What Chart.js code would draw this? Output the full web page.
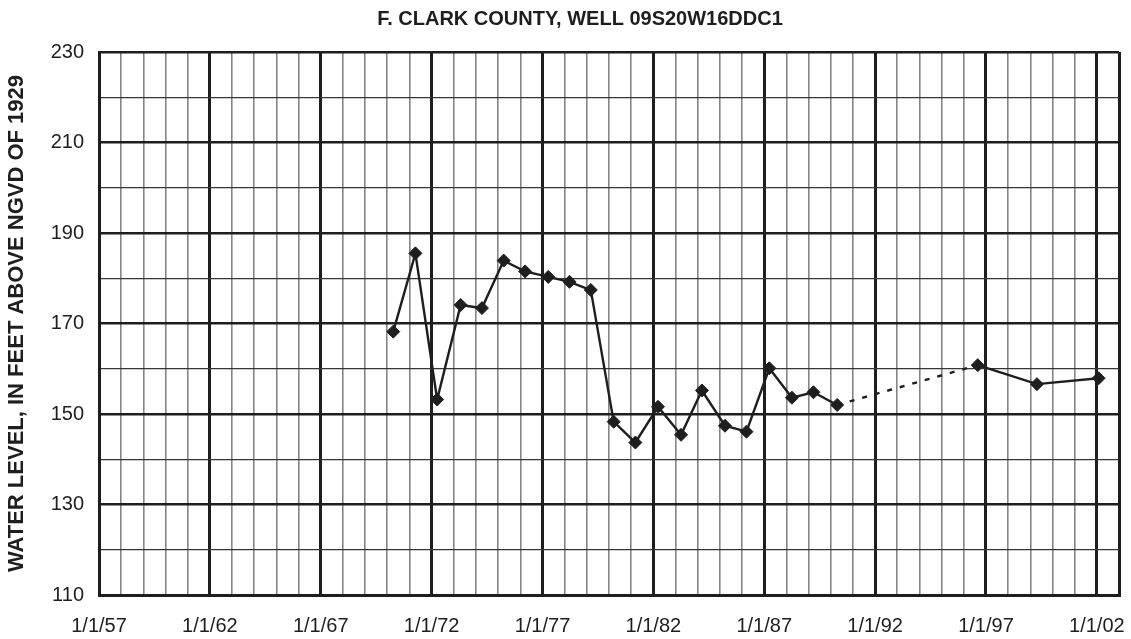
<!DOCTYPE html>
<html>
<head>
<meta charset="utf-8">
<script src="https://cdn.jsdelivr.net/npm/chart.js@4.4.0/dist/chart.umd.min.js"></script>
<style>
  html, body { margin: 0; padding: 0; background: #ffffff; }
  #wrap { width: 1131px; height: 639px; position: relative; }
</style>
</head>
<body>
<div id="wrap"><canvas id="c" width="1131" height="639"></canvas></div>
<script>
// ---- data (decimal years, water level in feet) ----
const sampleYears = [1970.27, 1971.27, 1972.25, 1973.31, 1974.27, 1975.25, 1976.22, 1977.26, 1978.22, 1979.18,
                     1980.21, 1981.19, 1982.21, 1983.25, 1984.19, 1985.23, 1986.20, 1987.23, 1988.25, 1989.22,
                     1990.29, 1996.63, 1999.30, 2002.08];
const waterLevels = [168.2, 185.5, 153.2, 174.1, 173.4, 183.9, 181.5, 180.3, 179.2, 177.4,
                     148.3, 143.7, 151.6, 145.4, 155.2, 147.4, 146.1, 160.1, 153.6, 154.8,
                     152.0, 160.8, 156.6, 157.9];
const gapAfterIndex = 20; // dashed segment (no data between 1990 and 1996)
const xTickYears = [1957, 1962, 1967, 1972, 1977, 1982, 1987, 1992, 1997, 2002];
const yTickLabels = [110, 130, 150, 170, 190, 210, 230];
const chartTitle = 'F. CLARK COUNTY, WELL 09S20W16DDC1';
const yAxisTitle = 'WATER LEVEL, IN FEET ABOVE NGVD OF 1929';

const INK = '#1e1e1e';
const xMin = 1957, xMax = 2003;
const FONT = '"Liberation Sans", Arial, sans-serif';

const titlePlugin = {
  id: 'topTitle',
  afterDraw(chart) {
    const ctx = chart.ctx;
    ctx.save();
    ctx.font = 'bold 20px ' + FONT;
    ctx.fillStyle = INK;
    ctx.textAlign = 'center';
    ctx.textBaseline = 'middle';
    ctx.fillText(chartTitle, 580, 19);
    ctx.restore();
  }
};

const points = sampleYears.map((x, i) => ({ x: x, y: waterLevels[i] }));

new Chart(document.getElementById('c'), {
  type: 'line',
  data: {
    datasets: [{
      data: points,
      borderColor: INK,
      backgroundColor: INK,
      borderWidth: 2.4,
      tension: 0,
      pointStyle: 'rectRot',
      pointRadius: 6.5,
      pointHoverRadius: 6.5,
      pointBorderWidth: 1,
      pointBackgroundColor: INK,
      pointBorderColor: INK,
      segment: {
        borderDash: ctx => ctx.p0DataIndex === gapAfterIndex ? [5, 8] : undefined
      }
    }]
  },
  options: {
    responsive: false,
    animation: false,
    events: [],
    layout: { padding: { left: 0, right: 12, top: 52, bottom: 0 } },
    plugins: { legend: { display: false }, tooltip: { enabled: false }, title: { display: false } },
    scales: {
      x: {
        type: 'linear',
        min: xMin,
        max: xMax,
        afterFit: s => { s.height = 44; s.paddingLeft = 0; s.paddingRight = 0; },
        ticks: {
          stepSize: 1,
          autoSkip: false,
          maxRotation: 0,
          minRotation: 0,
          padding: 19,
          color: INK,
          font: { family: FONT, size: 20 },
          callback: v => xTickYears.includes(v) ? '1/1/' + String(v % 100).padStart(2, '0') : ''
        },
        grid: {
          drawTicks: false,
          color: c => {
            const v = c.tick ? c.tick.value : 0;
            return (xTickYears.includes(v) || v === xMax) ? INK : '#858585';
          },
          lineWidth: c => {
            const v = c.tick ? c.tick.value : 0;
            return (xTickYears.includes(v) || v === xMax) ? 3 : 1.6;
          }
        },
        border: { display: true, color: INK, width: 3 }
      },
      y: {
        min: 110,
        max: 230,
        afterFit: s => { s.width = 99; },
        ticks: {
          stepSize: 10,
          padding: 15,
          color: INK,
          font: { family: FONT, size: 20 },
          callback: v => yTickLabels.includes(v) ? String(v) : ''
        },
        grid: {
          drawTicks: false,
          color: c => yTickLabels.includes(c.tick ? c.tick.value : 0) ? INK : '#363636',
          lineWidth: c => yTickLabels.includes(c.tick ? c.tick.value : 0) ? 2.5 : 1.2
        },
        border: { display: true, color: INK, width: 3 },
        title: {
          display: true,
          text: yAxisTitle,
          color: INK,
          font: { family: FONT, size: 22, weight: 'bold' },
          padding: { top: 4, bottom: 0 }
        }
      }
    }
  },
  plugins: [titlePlugin]
});
</script>
</body>
</html>
